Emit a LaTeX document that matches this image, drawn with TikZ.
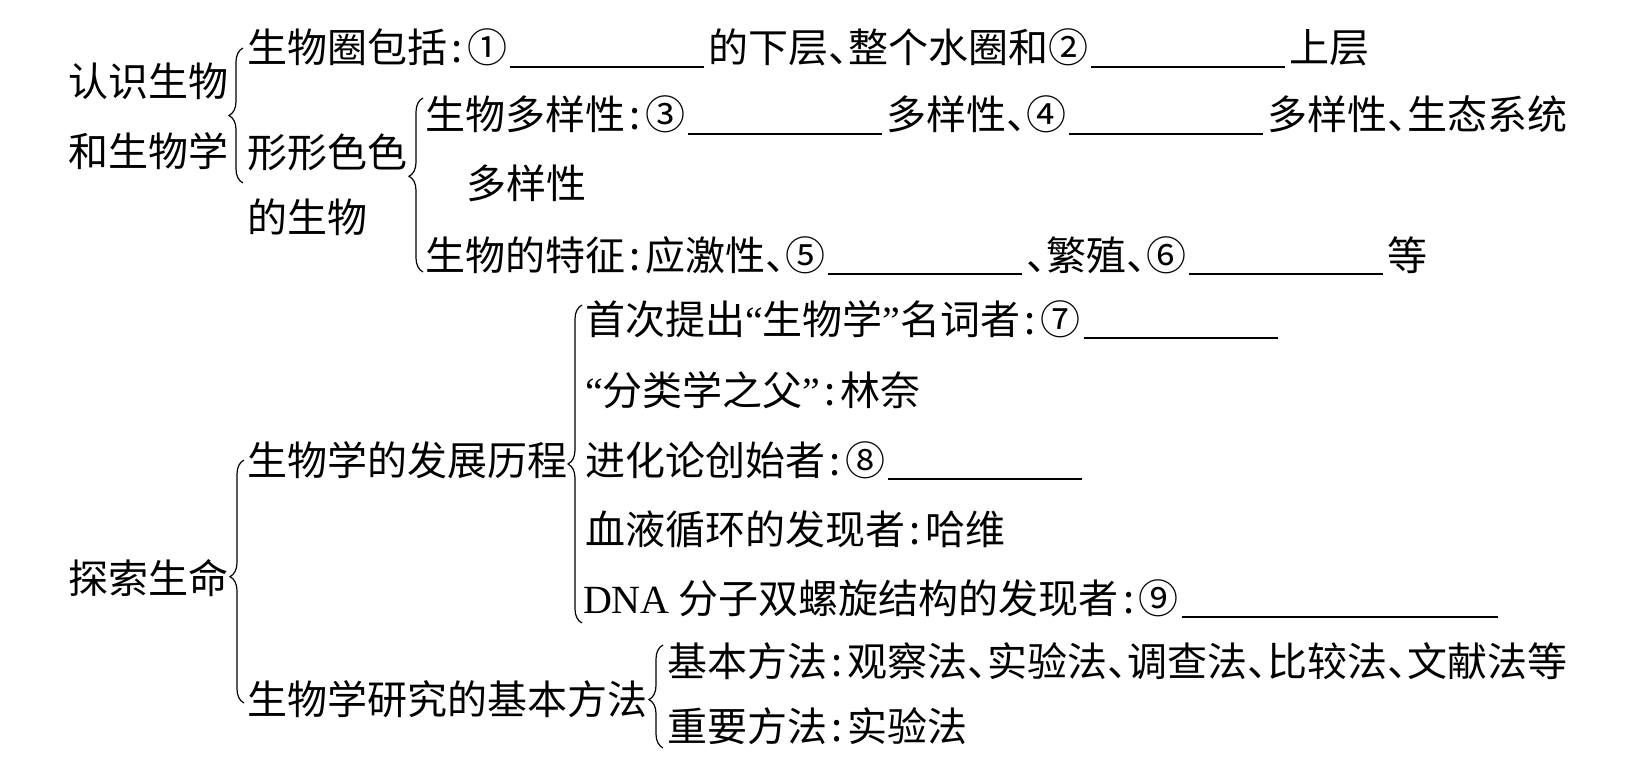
\documentclass[tikz,border=0pt]{standalone}
\usepackage{fontspec}
\setmainfont{Noto Sans CJK SC}
\newfontfamily\latf{Liberation Serif}
\usetikzlibrary{decorations.pathreplacing}
\newcommand{\co}{\makebox[0.5em]{:}}
\newcommand{\dn}{\makebox[0.5em][l]{、}}
\newcommand{\oq}{{\latf “}}
\newcommand{\cq}{{\latf ”}}
\newcommand{\blank}[1][4.85em]{\hspace{0.08em}\rule[-0.12em]{#1}{0.045em}\hspace{0.1em}}
\tikzset{
  txt/.style={anchor=west, inner sep=0pt, outer sep=0pt,
    font=\fontsize{40}{48}\selectfont, text height=35pt, text depth=5pt},
  brc/.style={decorate, decoration={brace, amplitude=14pt, aspect=#1},
    line width=1.2pt, black}
}
\begin{document}
\begin{tikzpicture}[x=1pt, y=-1pt]
\path[use as bounding box, fill=white] (0,0) rectangle (1648,770);

% level 0
\node[txt] (ra1) at (68,82) {认识生物};
\node[txt] (ra2) at (68,152) {和生物学};
\node[txt] (rb0) at (68,578) {探索生命};

% level 1 (top)
\node[txt] (a1) at (247,48) {生物圈包括\co①\blank 的下层\dn 整个水圈和②\blank 上层};
\node[txt] (a2) at (247,153) {形形色色};
\node[txt] (a2b) at (247,217) {的生物};

% level 2 (top)
\node[txt] (c1) at (425,115) {生物多样性\co③\blank 多样性\dn ④\blank 多样性\dn 生态系统};
\node[txt] (c1b) at (466,184) {多样性};
\node[txt] (c2) at (425,255) {生物的特征\co 应激性\dn ⑤\blank\dn 繁殖\dn ⑥\blank 等};

% level 1 (bottom)
\node[txt] (b1) at (247,460) {生物学的发展历程};
\node[txt] (b2) at (247,699) {生物学研究的基本方法};

% level 2 (bottom)
\node[txt] (e1) at (585,319) {首次提出\oq 生物学\cq 名词者\co⑦\blank};
\node[txt] (e2) at (585,390) {\oq 分类学之父\cq\co 林奈};
\node[txt] (e3) at (585,460) {进化论创始者\co⑧\blank};
\node[txt] (e4) at (585,529) {血液循环的发现者\co 哈维};
\node[txt] (e5) at (583,598) {{\latf DNA} 分子双螺旋结构的发现者\co⑨\blank[7.9em]};
\node[txt] (f1) at (667,661) {基本方法\co 观察法\dn 实验法\dn 调查法\dn 比较法\dn 文献法等};
\node[txt] (f2) at (667,726) {重要方法\co 实验法};

% brace anchor coordinates
\coordinate (bAb) at (243,183); \coordinate (bAt) at (243,48);
\coordinate (bBb) at (423,272); \coordinate (bBt) at (423,98);
\coordinate (bCb) at (244,703); \coordinate (bCt) at (244,460);
\coordinate (bDb) at (582,623); \coordinate (bDt) at (582,305);
\coordinate (bEb) at (663,748); \coordinate (bEt) at (663,645);

\draw[brc=0.50] (bAb) -- (bAt);
\draw[brc=0.55] (bBb) -- (bBt);
\draw[brc=0.52] (bCb) -- (bCt);
\draw[brc=0.50] (bDb) -- (bDt);
\draw[brc=0.47] (bEb) -- (bEt);
\end{tikzpicture}
\end{document}
